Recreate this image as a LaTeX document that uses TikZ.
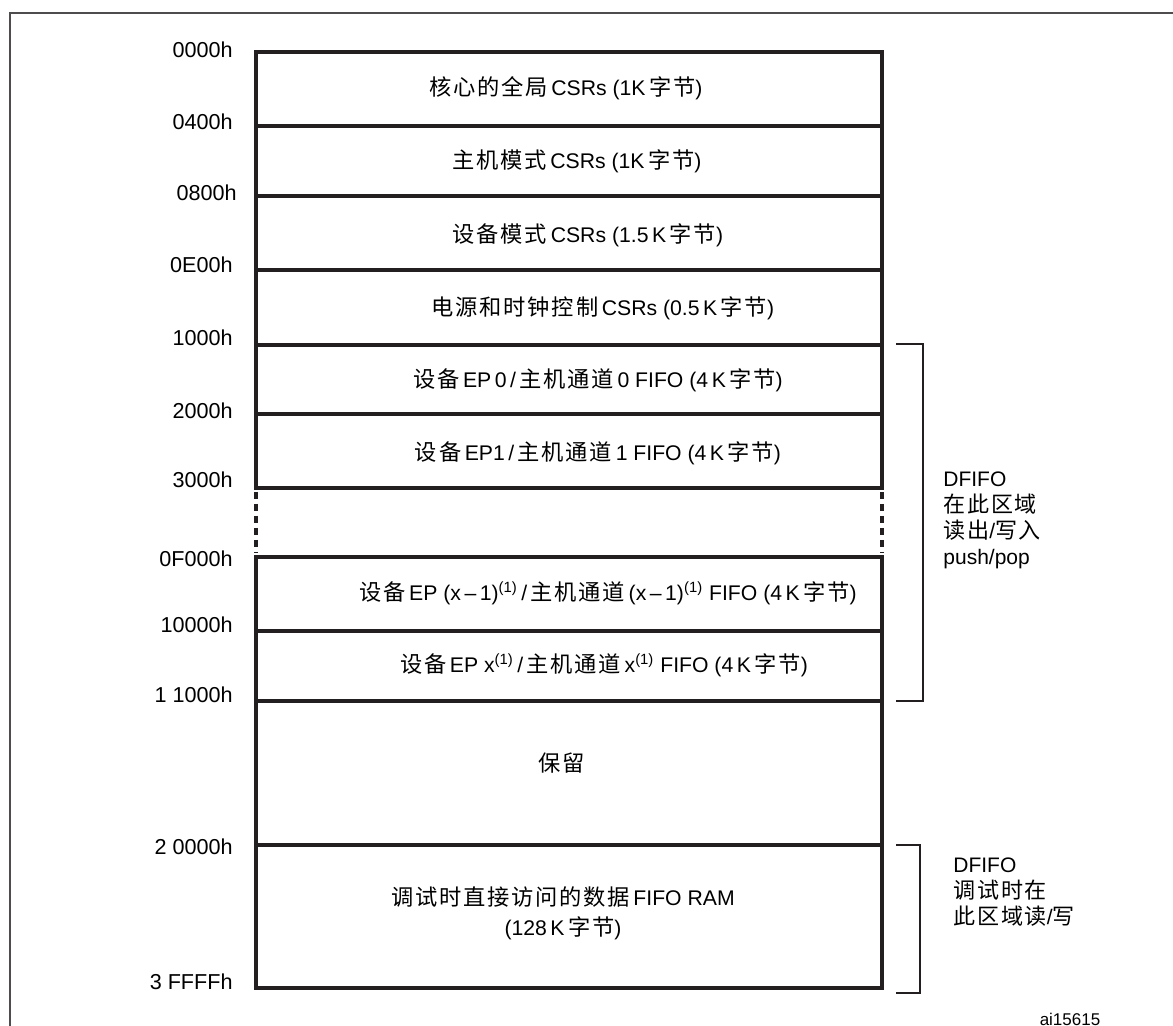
\documentclass[tikz,border=0pt]{standalone}
\usepackage{fontspec}
\setmainfont{Liberation Sans}
\newfontfamily\cjk[Scale=1.05, LetterSpace=8]{Noto Sans CJK SC}
\newcommand{\zh}[1]{{\cjk #1}}
\newcommand{\fnote}{\textsuperscript{(1)}}
\definecolor{ink}{HTML}{231F20}

\begin{document}
\begin{tikzpicture}[x=0.5pt, y=-0.5pt,
  wall/.style={draw=ink, line width=2pt},
  gapwall/.style={draw=ink, line width=2pt, dash pattern=on 3.5pt off 2.5pt},
  brace/.style={draw=ink, line width=0.6pt},
  addr/.style={anchor=east, inner sep=0pt, font=\fontsize{10.8}{12}\selectfont},
  cell/.style={inner sep=0pt, align=center, font=\fontsize{10.6}{15}\selectfont},
  note/.style={anchor=west, inner sep=0pt, align=left, font=\fontsize{10.5}{13}\selectfont}]

  \useasboundingbox (0,0) rectangle (1173,1026);

  % --- cornice esterna ---
  \draw[draw=ink!80, line width=0.7pt] (10,1026) -- (10,13) -- (1173,13);

  % --- blocco superiore (CSRs, EP0, EP1) ---
  \draw[wall] (256,52) rectangle (882,488);
  \foreach \y in {126,196,270,345,414}
    \draw[wall] (256,\y) -- (882,\y);

  % --- salto tratteggiato ---
  \draw[gapwall] (256,492) -- (256,553);
  \draw[gapwall] (882,492) -- (882,553);

  % --- blocco inferiore ---
  \draw[wall] (256,557) rectangle (882,988);
  \foreach \y in {631,701,845}
    \draw[wall] (256,\y) -- (882,\y);

  % --- indirizzi ---
  \node[addr] (a0000) at (233,50)  {0000h};
  \node[addr] (a0400) at (233,122) {0400h};
  \node[addr] (a0800) at (237,193) {0800h};
  \node[addr] (a0E00) at (233,265) {0E00h};
  \node[addr] (a1000) at (233,338) {1000h};
  \node[addr] (a2000) at (233,411) {2000h};
  \node[addr] (a3000) at (233,480) {3000h};
  \node[addr] (aF000) at (233,559) {0F000h};
  \node[addr] (a10000) at (233,625) {10000h};
  \node[addr] (a11000) at (233,695) {1 1000h};
  \node[addr] (a20000) at (233,847) {2 0000h};
  \node[addr] (a3FFFF) at (233,982) {3 FFFFh};

  % --- contenuto delle righe ---
  \node[cell] (core)  at (566,88)  {\zh{核心的全局}\,CSRs (1K\,\zh{字节})};
  \node[cell] (host)  at (577,161) {\zh{主机模式}\,CSRs (1K\,\zh{字节})};
  \node[cell] (dev)   at (588,235) {\zh{设备模式}\,CSRs (1.5\,K\,\zh{字节})};
  \node[cell] (power) at (603,308) {\zh{电源和时钟控制}\,CSRs (0.5\,K\,\zh{字节})};
  \node[cell] (ep0)   at (598,380) {\zh{设备}\,EP\,0\,/\,\zh{主机通道}\,0 FIFO (4\,K\,\zh{字节})};
  \node[cell] (ep1)   at (598,453) {\zh{设备}\,EP1\,/\,\zh{主机通道}\,1 FIFO (4\,K\,\zh{字节})};
  \node[cell] (epxm)  at (608,593) {\zh{设备}\,EP (x\,–\,1)\fnote\,/\,\zh{主机通道}\,(x\,–\,1)\fnote\ FIFO (4\,K\,\zh{字节})};
  \node[cell] (epx)   at (604,665) {\zh{设备}\,EP x\fnote\,/\,\zh{主机通道}\,x\fnote\ FIFO (4\,K\,\zh{字节})};
  \node[cell] (resv)  at (562,763) {\zh{保留}};
  \node[cell] (dbg)   at (563,913) {\zh{调试时直接访问的数据}\,FIFO RAM\\(128\,K\,\zh{字节})};

  % --- parentesi laterali ---
  \draw[brace] (896,344) -- (923,344) -- (923,701) -- (896,701);
  \draw[brace] (896,845) -- (920,845) -- (920,993) -- (896,993);

  % --- note DFIFO ---
  \node[note] (pushpop) at (943,520) {DFIFO\\\zh{在此区域}\\\zh{读出}/\zh{写入}\\push/pop};
  \node[note] (dbgrw) at (953,892) {DFIFO\\\zh{调试时在}\\\zh{此区域读}/\zh{写}};

  \node[inner sep=0pt, font=\fontsize{8.5}{10}\selectfont] (fig) at (1070,1019) {ai15615};

\end{tikzpicture}
\end{document}
